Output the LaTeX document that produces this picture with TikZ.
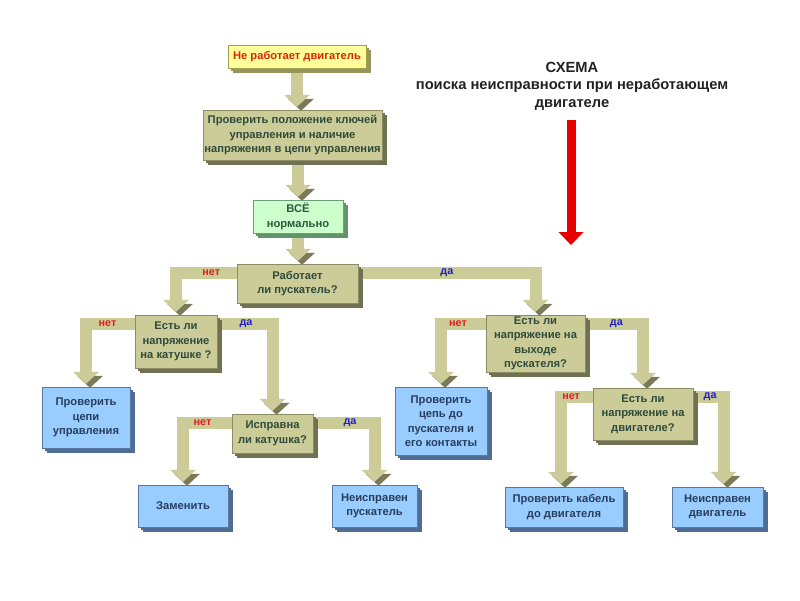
\documentclass[tikz,border=0pt]{standalone}
\usepackage{fontspec}
\setmainfont{Liberation Sans}
\usepackage{tikz}
\usetikzlibrary{arrows.meta, shadows}

\definecolor{olivefill}{RGB}{204,204,153}
\definecolor{oliveside}{RGB}{112,112,82}
\definecolor{oliveline}{RGB}{140,140,100}
\definecolor{olivetext}{RGB}{46,75,59}
\definecolor{bluefill}{RGB}{153,204,255}
\definecolor{blueside}{RGB}{78,108,148}
\definecolor{blueline}{RGB}{90,120,160}
\definecolor{bluetext}{RGB}{40,62,92}
\definecolor{greenfill}{RGB}{204,255,204}
\definecolor{greenside}{RGB}{98,148,108}
\definecolor{greenline}{RGB}{110,160,120}
\definecolor{greentext}{RGB}{40,90,60}
\definecolor{yellowfill}{RGB}{255,255,153}
\definecolor{yellowside}{RGB}{150,150,90}
\definecolor{yellowline}{RGB}{160,160,80}
\definecolor{motortext}{RGB}{215,40,10}
\definecolor{tubeface}{RGB}{204,204,153}
\definecolor{tubeside}{RGB}{122,122,90}
\definecolor{notext}{RGB}{225,30,30}
\definecolor{yestext}{RGB}{30,30,200}

\pgfdeclarelayer{bg}
\pgfsetlayers{bg,main}

\begin{document}
\begin{tikzpicture}[x=1pt, y=-1pt,
            extrude/.style={general shadow={fill=#1, shadow xshift=2.5pt, shadow yshift=-2.5pt},
                            general shadow={fill=#1, shadow xshift=5pt, shadow yshift=-5pt}}, % side faces
            cell/.style={rectangle, inner sep=1pt, align=center, line width=0.4pt,
                         font=\fontsize{11.2}{14.5}\selectfont\bfseries},
            olivebox/.style={cell, draw=oliveline, fill=olivefill, text=olivetext, extrude=oliveside},
            bluebox/.style={cell, draw=blueline, fill=bluefill, text=bluetext, extrude=blueside},
            greenbox/.style={cell, draw=greenline, fill=greenfill, text=greentext, extrude=greenside},
            yellowbox/.style={cell, draw=yellowline, fill=yellowfill, text=motortext, extrude=yellowside},
            tube/.style={line width=12pt, draw=tubeface, shorten >=3pt,
                         -{Triangle[width=26pt, length=12pt, line width=0pt]},
                         preaction={draw=tubeside, transform canvas={shift={(4pt,-4pt)}}}}, % 3D pipe
            nolbl/.style={text=notext, font=\fontsize{10.8}{12}\selectfont\bfseries, inner sep=0pt},
            yeslbl/.style={text=yestext, font=\fontsize{10.8}{12}\selectfont\bfseries, inner sep=0pt}
            ]

        \useasboundingbox (0,0) rectangle (800,600);

        % title and red arrow
        \node[align=center, text={rgb,255:red,34;green,34;blue,34},
              font=\fontsize{14.7}{17.5}\selectfont\bfseries] (head) at (572,86)
            {СХЕМА\\поиска неисправности при неработающем\\двигателе};
        \coordinate (redtip) at (571,245);
        \draw[line width=9pt, draw={rgb,255:red,230;green,0;blue,0}, shorten <=6pt,
              -{Triangle[width=25pt, length=13pt, line width=0pt]}] (head.south -| redtip) -- (redtip);

        % boxes
        \node[yellowbox, minimum width=138pt, minimum height=23pt] (motor) at (297,56.5) {Не работает двигатель};
        \node[olivebox, minimum width=179pt, minimum height=50pt] (keys) at (292.5,135)
            {Проверить положение ключей\\управления и наличие\\напряжения в цепи управления};
        \node[greenbox, minimum width=90pt, minimum height=33pt] (norm) at (298,216.5) {ВСЁ\\нормально};
        \node[olivebox, minimum width=121pt, minimum height=39pt] (starter) at (297.5,283.5) {Работает\\ли пускатель?};
        \node[olivebox, minimum width=82pt, minimum height=53pt] (coilv) at (176,341.5) {Есть ли\\напряжение\\на катушке ?};
        \node[bluebox, minimum width=88pt, minimum height=61pt] (ctrl) at (86,417.5) {Проверить\\цепи\\управления};
        \node[olivebox, minimum width=81pt, minimum height=39pt] (coilok) at (272.5,433.5) {Исправна\\ли катушка?};
        \node[bluebox, minimum width=90pt, minimum height=42pt] (replace) at (183,506) {Заменить};
        \node[bluebox, minimum width=85pt, minimum height=42pt] (badstarter) at (374.5,506) {Неисправен\\пускатель};
        \node[olivebox, minimum width=99pt, minimum height=57pt] (outv) at (535.5,343.5)
            {Есть ли\\напряжение на\\выходе\\пускателя?};
        \node[bluebox, minimum width=92pt, minimum height=68pt] (wiring) at (441,421)
            {Проверить\\цепь до\\пускателя и\\его контакты};
        \node[olivebox, minimum width=100pt, minimum height=52pt] (motorv) at (643,414)
            {Есть ли\\напряжение на\\двигателе?};
        \node[bluebox, minimum width=118pt, minimum height=40pt] (cable) at (564,507) {Проверить кабель\\до двигателя};
        \node[bluebox, minimum width=91pt, minimum height=40pt] (badmotor) at (717.5,507) {Неисправен\\двигатель};

        % pipes
        \begin{pgfonlayer}{bg}
        \draw[tube] (motor.south) -- (motor.south |- keys.north);
        \draw[tube] (keys.south -| norm.north) -- (norm.north);
        \draw[tube] (norm.south) -- (norm.south |- starter.north);
        \draw[tube] ([yshift=-9pt]starter.north west) -| node[pos=0.21, nolbl] {нет} (coilv.north);
        \draw[tube] ([yshift=-9pt]starter.north east) -| node[pos=0.25, yeslbl] {да} (outv.north);
        \draw[tube] ([yshift=-9pt]coilv.north west) -| node[pos=0.28, nolbl] {нет} (ctrl.north);
        \draw[tube] ([yshift=-9pt]coilv.north east) -| node[pos=0.26, yeslbl] {да} (coilok.north);
        \draw[tube] ([yshift=-9pt]coilok.north west) -| node[pos=0.30, nolbl] {нет} (replace.north);
        \draw[tube] ([yshift=-9pt]coilok.north east) -| node[pos=0.30, yeslbl] {да} (badstarter.north);
        \draw[tube] ([yshift=-9pt]outv.north west) -| node[pos=0.31, nolbl] {нет} (wiring.north);
        \draw[tube] ([yshift=-9pt]outv.north east) -| node[pos=0.27, yeslbl] {да} (motorv.north);
        \draw[tube] ([yshift=-9pt]motorv.north west) -| node[pos=0.34, nolbl] {нет} ([xshift=-3pt]cable.north);
        \draw[tube] ([yshift=-9pt]motorv.north east) -| node[pos=0.28, yeslbl] {да} ([xshift=6pt]badmotor.north);
        \end{pgfonlayer}

\end{tikzpicture}
\end{document}
